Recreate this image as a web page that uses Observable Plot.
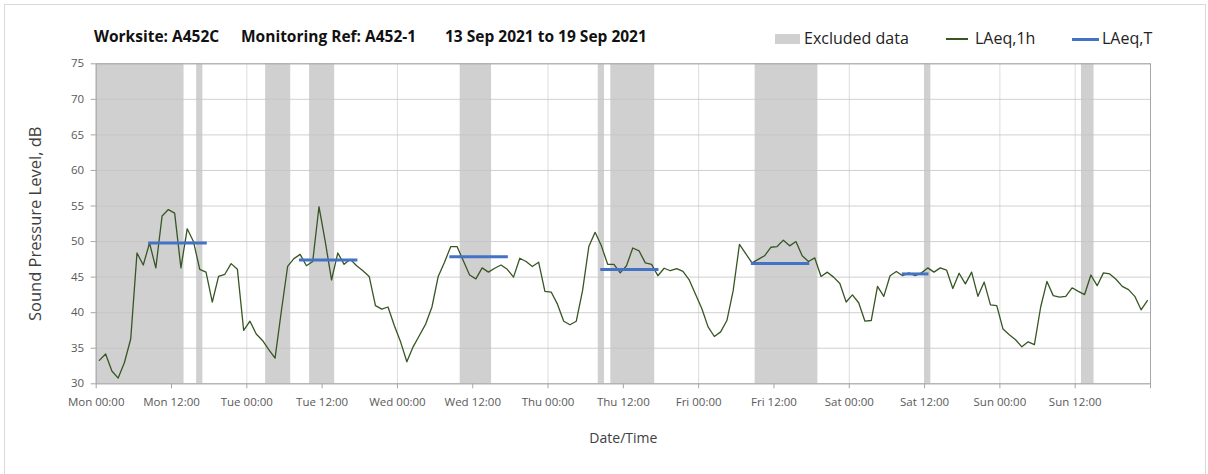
<!DOCTYPE html>
<html>
<head>
<meta charset="utf-8">
<script src="https://cdn.jsdelivr.net/npm/d3@7"></script>
<script src="https://cdn.jsdelivr.net/npm/@observablehq/plot@0.6"></script>
<style>
  body { margin: 0; background: #fff; font-family: "Open Sans", sans-serif; }
  #wrap { position: relative; width: 1208px; height: 474px; overflow: hidden; }
  #border { position: absolute; left: 4px; top: 4px; width: 1202px; height: 480px; border: 1px solid #d9d9d9; box-sizing: border-box; }
  #header { position: absolute; left: 0; top: 0; width: 1208px; height: 50px; }
  .t { position: absolute; top: 26px; font-weight: bold; font-size: 15.5px; color: #111; white-space: nowrap; line-height: 20px; }
  .lg { position: absolute; top: 28px; font-size: 16px; color: #222; white-space: nowrap; line-height: 20px; }
  .sw { position: absolute; }
  #chart { position: absolute; left: 0; top: 50px; }
</style>
</head>
<body>
<div id="wrap">
  <div id="border"></div>
  <div id="header">
    <span class="t" style="left:94px">Worksite: A452C</span>
    <span class="t" style="left:241px">Monitoring Ref: A452-1</span>
    <span class="t" style="left:445px">13 Sep 2021 to 19 Sep 2021</span>
    <div class="sw" style="left:775px;top:34px;width:25px;height:10px;background:#d0d0d0"></div>
    <span class="lg" style="left:804px">Excluded data</span>
    <div class="sw" style="left:946px;top:38px;width:22px;height:1.5px;background:#375623"></div>
    <span class="lg" style="left:975px">LAeq,1h</span>
    <div class="sw" style="left:1072px;top:37.5px;width:27px;height:3px;background:#4472c4"></div>
    <span class="lg" style="left:1102px">LAeq,T</span>
  </div>
  <div id="chart"></div>
</div>
<script>
// Hourly LAeq,1h values (dB), Mon 00:00 to Sun 23:00
const laeq1h = [
  33.3, 34.2, 31.8, 30.8, 33.0, 36.3, 48.4, 46.7, 49.8, 46.3, 53.6, 54.5, 54.0, 46.3, 51.8, 50.0,
  46.1, 45.7, 41.5, 45.1, 45.4, 46.9, 46.1, 37.5, 38.8, 37.0, 36.1, 34.8, 33.6, 40.2, 46.5, 47.6,
  48.2, 46.6, 47.2, 54.9, 50.0, 44.6, 48.4, 46.8, 47.5, 46.6, 45.9, 45.1, 41.0, 40.5, 40.8, 38.2,
  35.9, 33.1, 35.2, 36.8, 38.4, 40.8, 45.1, 47.1, 49.3, 49.3, 47.3, 45.3, 44.75, 46.3, 45.7, 46.25,
  46.7, 46.1, 45.0, 47.65, 47.2, 46.5, 47.1, 43.0, 42.9, 41.2, 38.8, 38.3, 38.8, 43.1, 49.3, 51.3,
  49.4, 46.8, 46.8, 45.6, 46.6, 49.1, 48.7, 47.0, 46.8, 45.2, 46.25, 45.9, 46.2, 45.8, 44.6, 42.6,
  40.6, 38.0, 36.65, 37.3, 38.9, 43.1, 49.6, 48.3, 47.0, 47.5, 48.0, 49.2, 49.3, 50.2, 49.4, 50.0,
  48.0, 47.2, 47.7, 45.1, 45.7, 45.0, 44.1, 41.5, 42.5, 41.4, 38.8, 38.9, 43.7, 42.3, 45.2, 45.8,
  45.2, 45.6, 45.2, 45.6, 46.3, 45.7, 46.3, 46.0, 43.4, 45.55, 44.05, 45.7, 42.3, 44.3, 41.1, 41.0,
  37.7, 36.9, 36.2, 35.2, 35.9, 35.5, 40.8, 44.4, 42.4, 42.2, 42.3, 43.5, 43.0, 42.55, 45.3, 43.8,
  45.6, 45.45, 44.7, 43.7, 43.25, 42.3, 40.4, 41.7
];
// Excluded data periods (hours from Mon 00:00)
const excludedStart = [0, 16, 27, 34, 58, 80, 82, 105, 132, 157];
const excludedEnd   = [14, 17, 31, 38, 63, 81, 89, 115, 133, 159];
// LAeq,T periods (hours from Mon 00:00) and levels (dB)
const periodStart = [8.35, 32.4, 56.35, 80.4, 104.4, 128.45];
const periodEnd   = [17.7, 41.7, 65.67, 89.67, 113.7, 132.7];
const periodLAeqT = [49.8, 47.4, 47.85, 46.07, 46.9, 45.45];
// Axis ticks
const tickHours  = [0, 12, 24, 36, 48, 60, 72, 84, 96, 108, 120, 132, 144, 156, 168];
const tickLabels = ["Mon 00:00", "Mon 12:00", "Tue 00:00", "Tue 12:00", "Wed 00:00", "Wed 12:00",
  "Thu 00:00", "Thu 12:00", "Fri 00:00", "Fri 12:00", "Sat 00:00", "Sat 12:00", "Sun 00:00", "Sun 12:00", ""];
const yTicks = [30, 35, 40, 45, 50, 55, 60, 65, 70, 75];

const hourly = laeq1h.map((v, i) => ({h: i + 0.5, v}));
const bands = excludedStart.map((s, i) => ({s, e: excludedEnd[i]}));
const periods = periodStart.map((s, i) => ({s, e: periodEnd[i], v: periodLAeqT[i]}));
const labelOf = new Map(tickHours.map((h, i) => [h, tickLabels[i]]));

const chart = Plot.plot({
  width: 1208,
  height: 424,
  marginTop: 13.3,
  marginBottom: 90.7,
  marginLeft: 95.7,
  marginRight: 58,
  style: {fontFamily: "'Open Sans', sans-serif", fontSize: "11.5px", color: "#595959", background: "transparent"},
  x: {domain: [0, 168]},
  y: {domain: [30, 75]},
  marks: [
    Plot.gridX(tickHours, {stroke: "#dcdcdc", strokeOpacity: 1, strokeWidth: 1}),
    Plot.rect(bands, {x1: "s", x2: "e", fill: "#d0d0d0"}),
    Plot.gridY(yTicks, {stroke: "#c4c4c4", strokeOpacity: 0.8, strokeWidth: 1}),
    Plot.frame({stroke: "#a6a6a6"}),
    Plot.line(hourly, {x: "h", y: "v", stroke: "#375623", strokeWidth: 1.3}),
    Plot.ruleY(periods, {y: "v", x1: "s", x2: "e", stroke: "#4472c4", strokeWidth: 3}),
    Plot.axisX({ticks: tickHours, tickFormat: d => labelOf.get(d) ?? "", tickSize: 5, tickPadding: 9,
      stroke: "#a6a6a6", fill: "#595959", label: null}),
    Plot.axisY({ticks: yTicks, tickSize: 5, tickPadding: 7, stroke: "#a6a6a6", fill: "#595959", label: null}),
    Plot.text(["Sound Pressure Level, dB"], {frameAnchor: "left", dx: -60.7, rotate: -90, text: d => d,
      fontSize: 16.5, fill: "#404040", textAnchor: "middle"}),
    Plot.text(["Date/Time"], {frameAnchor: "bottom", dy: 55, text: d => d, fontSize: 14, fill: "#404040",
      textAnchor: "middle", lineAnchor: "middle"})
  ]
});
document.getElementById("chart").appendChild(chart);
</script>
</body>
</html>
